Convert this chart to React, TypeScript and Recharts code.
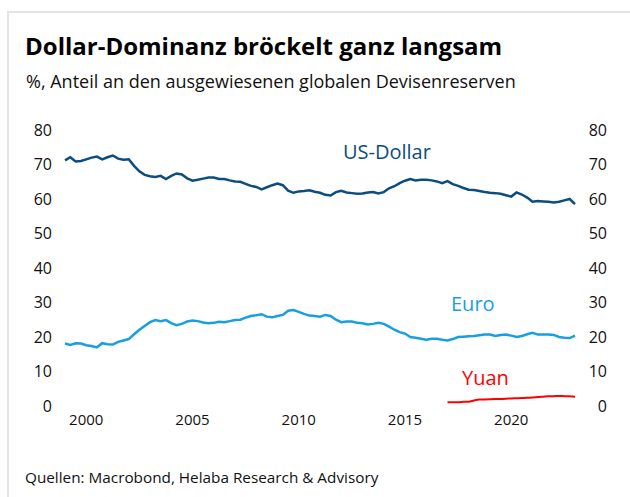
import React from 'react';
import { LineChart, Line, XAxis, YAxis } from 'recharts';

// Quarterly shares (%) of allocated global FX reserves, starting 1999 Q1
const START_YEAR = 1999;

const usDollar = [
  71.2, 72.1, 70.9, 71.0, 71.5, 72.0, 72.3, 71.5, 72.1, 72.6,
  71.7, 71.4, 71.5, 69.6, 68.0, 67.0, 66.6, 66.4, 66.7, 65.8,
  66.7, 67.4, 67.1, 66.0, 65.3, 65.6, 65.9, 66.2, 66.2, 65.8,
  65.8, 65.4, 65.1, 65.0, 64.4, 63.8, 63.5, 62.8, 63.4, 64.0,
  64.5, 64.0, 62.4, 61.8, 62.2, 62.3, 62.5, 62.1, 61.8, 61.2,
  61.0, 62.0, 62.4, 61.9, 61.7, 61.5, 61.6, 61.9, 62.0, 61.6,
  62.0, 63.1, 63.7, 64.6, 65.3, 65.8, 65.4, 65.6, 65.6, 65.4,
  65.1, 64.6, 65.2, 64.3, 63.8, 63.2, 62.7, 62.6, 62.3, 62.0,
  61.8, 61.7, 61.5, 61.1, 60.7, 61.9, 61.3, 60.4, 59.2, 59.4,
  59.3, 59.2, 59.0, 59.2, 59.6, 60.0, 58.5,
];

const euro = [
  18.1, 17.7, 18.2, 18.1, 17.6, 17.4, 17.0, 18.2, 17.9, 17.8,
  18.6, 19.0, 19.4, 20.8, 22.1, 23.2, 24.3, 24.9, 24.6, 24.9,
  24.0, 23.4, 23.8, 24.5, 24.8, 24.6, 24.2, 24.0, 24.1, 24.4,
  24.3, 24.6, 24.9, 25.0, 25.6, 26.1, 26.3, 26.6, 25.9, 25.7,
  26.1, 26.4, 27.6, 27.8, 27.3, 26.7, 26.2, 26.1, 25.9, 26.4,
  26.1, 25.0, 24.3, 24.5, 24.5, 24.1, 24.0, 23.6, 23.8, 24.1,
  23.8, 23.0, 22.1, 21.4, 21.0, 20.0, 19.8, 19.5, 19.2, 19.5,
  19.5, 19.2, 19.0, 19.4, 20.0, 20.1, 20.2, 20.3, 20.5, 20.7,
  20.7, 20.3, 20.6, 20.7, 20.4, 20.0, 20.3, 20.8, 21.2, 20.7,
  20.7, 20.7, 20.6, 20.0, 19.8, 19.7, 20.4,
];

// Yuan series begins later (quarter index 72)
const YUAN_START_INDEX = 72;
const yuan = [
  1.1, 1.1, 1.1, 1.2, 1.25, 1.6, 1.85, 1.9, 1.95, 2.0,
  2.05, 2.1, 2.2, 2.25, 2.3, 2.4, 2.45, 2.6, 2.7, 2.8,
  2.85, 2.9, 2.85, 2.8, 2.7,
];

const xTicks = [2000, 2005, 2010, 2015, 2020];
const yTicks = [0, 10, 20, 30, 40, 50, 60, 70, 80];

const data = usDollar.map((v, i) => ({
  t: START_YEAR + i / 4,
  usd: v,
  eur: euro[i],
  cny: i >= YUAN_START_INDEX ? yuan[i - YUAN_START_INDEX] : null,
}));

const FONT = '"Open Sans", sans-serif';
const C_USD = '#0b4d7e';
const C_EUR = '#179fe2';
const C_CNY = '#ff0000';

const XTick = (props: any) => {
  const { x, y, payload } = props;
  return (
    <text x={x} y={y} dy={19} textAnchor="middle" fontFamily={FONT} fontSize={15} fill="#111">
      {payload.value}
    </text>
  );
};

const LeftTick = (props: any) => {
  const { x, y, payload } = props;
  return (
    <text x={x} y={y} dy="0.36em" textAnchor="end" fontFamily={FONT} fontSize={16} fill="#111">
      {payload.value}
    </text>
  );
};

const RightTick = (props: any) => {
  const { x, y, payload } = props;
  return (
    <text x={x + 32} y={y} dy="0.36em" textAnchor="end" fontFamily={FONT} fontSize={16} fill="#111">
      {payload.value}
    </text>
  );
};

export default function App() {
  return (
    <div
      style={{
        position: 'absolute',
        left: 0,
        top: 0,
        width: 630,
        height: 497,
        overflow: 'hidden',
        background: '#fff',
      }}
    >
      <div
        style={{
          position: 'absolute',
          left: 7,
          top: 11,
          width: 660,
          height: 520,
          border: '2px solid #e4e4e4',
          boxSizing: 'border-box',
        }}
      />
      <div style={{ position: 'absolute', left: 0, top: 0 }}>
        <LineChart
          width={630}
          height={497}
          data={data}
          margin={{ top: 130, right: 0, bottom: 61, left: 0 }}
        >
          <XAxis
            dataKey="t"
            type="number"
            domain={[1999, 2023]}
            ticks={xTicks}
            axisLine={false}
            tickLine={false}
            tickSize={0}
            tickMargin={0}
            height={30}
            tick={<XTick />}
            interval={0}
          />
          <YAxis
            yAxisId="left"
            orientation="left"
            domain={[0, 80]}
            ticks={yTicks}
            axisLine={false}
            tickLine={false}
            tickSize={0}
            tickMargin={13}
            width={65}
            tick={<LeftTick />}
            interval={0}
          />
          <YAxis
            yAxisId="right"
            orientation="right"
            domain={[0, 80]}
            ticks={yTicks}
            axisLine={false}
            tickLine={false}
            tickSize={0}
            tickMargin={0}
            width={55}
            tick={<RightTick />}
            interval={0}
          />
          <Line
            yAxisId="left"
            dataKey="usd"
            stroke={C_USD}
            strokeWidth={2.5}
            dot={false}
            type="linear"
            isAnimationActive={false}
          />
          <Line
            yAxisId="left"
            dataKey="eur"
            stroke={C_EUR}
            strokeWidth={2.5}
            dot={false}
            type="linear"
            isAnimationActive={false}
          />
          <Line
            yAxisId="right"
            dataKey="cny"
            stroke={C_CNY}
            strokeWidth={2}
            dot={false}
            type="monotone"
            connectNulls={false}
            isAnimationActive={false}
          />
        </LineChart>
      </div>
      <svg
        width={630}
        height={497}
        style={{ position: 'absolute', left: 0, top: 0, pointerEvents: 'none' }}
      >
        <text x={25} y={54.5} fontFamily={FONT} fontSize={24} fontWeight={700} fill="#000">
          Dollar-Dominanz bröckelt ganz langsam
        </text>
        <text x={26} y={87.5} fontFamily={FONT} fontSize={18} fill="#111">
          %, Anteil an den ausgewiesenen globalen Devisenreserven
        </text>
        <text x={343} y={159} fontFamily={FONT} fontSize={20} fill={C_USD}>
          US-Dollar
        </text>
        <text x={451} y={311} fontFamily={FONT} fontSize={20} fill={C_EUR}>
          Euro
        </text>
        <text x={462} y={385} fontFamily={FONT} fontSize={20} fill={C_CNY}>
          Yuan
        </text>
        <text x={25} y={482.5} fontFamily={FONT} fontSize={15.3} fill="#111">
          Quellen: Macrobond, Helaba Research &amp; Advisory
        </text>
      </svg>
    </div>
  );
}
